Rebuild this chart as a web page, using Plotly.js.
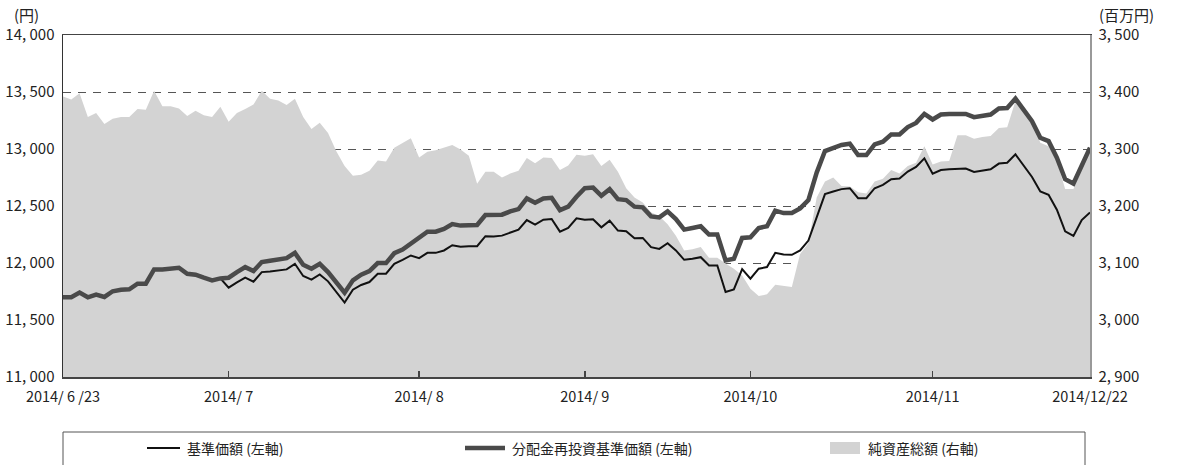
<!DOCTYPE html>
<html>
<head>
<meta charset="utf-8">
<script src="https://cdn.plot.ly/plotly-3.0.1.min.js"></script>
<style>
  html, body { margin: 0; padding: 0; background: #fff; }
  #chart { width: 1178px; height: 465px; }
</style>
</head>
<body>
<div id="chart"></div>
<script>
// 基準価額 (左軸)
const navPrice = [
  11699, 11699, 11740, 11699, 11723, 11702, 11752, 11766, 11769, 11819,
  11819, 11944, 11944, 11950, 11958, 11906, 11897, 11871, 11848, 11865,
  11784, 11830, 11871, 11836, 11920, 11926, 11935, 11944, 11993, 11886,
  11854, 11900, 11839, 11746, 11653, 11766, 11807, 11833, 11906, 11906,
  11993, 12028, 12066, 12043, 12089, 12089, 12110, 12156, 12142, 12147,
  12147, 12235, 12232, 12240, 12270, 12293, 12377, 12336, 12380, 12386,
  12275, 12307, 12392, 12380, 12383, 12313, 12371, 12284, 12278, 12217,
  12220, 12139, 12124, 12173, 12110, 12028, 12037, 12051, 11979, 11979,
  11746, 11769, 11947, 11862, 11950, 11964, 12089, 12075, 12072, 12110,
  12197, 12400, 12604, 12627, 12648, 12656, 12569, 12569, 12656, 12685,
  12735, 12741, 12802, 12843, 12918, 12784, 12816, 12822, 12822, 12828,
  12799, 12811, 12822, 12872, 12880, 12953, 12851, 12755, 12627, 12598,
  12467, 12278, 12237, 12377, 12444
];
// 分配金再投資基準価額 (左軸)
const reinvestPrice = [
  11699, 11699, 11740, 11699, 11723, 11702, 11752, 11766, 11769, 11819,
  11819, 11944, 11944, 11950, 11958, 11906, 11897, 11871, 11848, 11865,
  11871, 11920, 11964, 11929, 12008, 12019, 12031, 12043, 12089, 11984,
  11950, 11993, 11920, 11824, 11740, 11848, 11897, 11929, 11999, 11999,
  12086, 12118, 12168, 12226, 12275, 12275, 12299, 12342, 12328, 12331,
  12333, 12421, 12418, 12424, 12453, 12473, 12566, 12528, 12566, 12572,
  12464, 12494, 12581, 12656, 12662, 12590, 12648, 12560, 12552, 12494,
  12488, 12409, 12400, 12453, 12386, 12293, 12307, 12322, 12249, 12249,
  12022, 12037, 12220, 12226, 12307, 12322, 12459, 12438, 12438, 12479,
  12552, 12793, 12982, 13011, 13035, 13046, 12947, 12947, 13040, 13064,
  13128, 13128, 13192, 13229, 13308, 13259, 13302, 13308, 13308, 13308,
  13279, 13288, 13302, 13355, 13360, 13442, 13337, 13244, 13099, 13069,
  12924, 12735, 12697, 12851, 13011
];
// 純資産総額 (右軸, 百万円)
const netAssets = [
  3392, 3387, 3398, 3356, 3363, 3344, 3353, 3356, 3356, 3370,
  3369, 3402, 3375, 3375, 3371, 3358, 3367, 3359, 3356, 3374,
  3348, 3363, 3370, 3378, 3402, 3388, 3385, 3377, 3388, 3356,
  3335, 3346, 3328, 3296, 3270, 3253, 3255, 3262, 3280, 3278,
  3302, 3310, 3319, 3285, 3295, 3298, 3302, 3307, 3299, 3288,
  3239, 3260, 3260, 3250, 3257, 3262, 3284, 3275, 3285, 3284,
  3263, 3271, 3290, 3288, 3291, 3270, 3281, 3260, 3231, 3215,
  3206, 3189, 3182, 3168, 3148, 3122, 3124, 3128, 3109, 3109,
  3099, 3090, 3078, 3055, 3042, 3045, 3062, 3060, 3058, 3116,
  3135, 3215, 3243, 3250, 3235, 3234, 3224, 3222, 3243, 3248,
  3263, 3257, 3270, 3276, 3305, 3273, 3278, 3279, 3324, 3324,
  3318, 3321, 3323, 3337, 3338, 3384, 3369, 3352, 3311, 3305,
  3279, 3230, 3230, 3264, 3299
];
// x tick positions (business-day index) and labels
const xTickIdx = [0, 20, 43, 63, 83, 105, 124];
const xTickLabels = ["2014/ 6 /23", "2014/ 7", "2014/ 8", "2014/ 9", "2014/10", "2014/11", "2014/12/22"];
const leftTicks = [11000, 11500, 12000, 12500, 13000, 13500, 14000];
const leftTickLabels = ["11, 000", "11, 500", "12, 000", "12, 500", "13, 000", "13, 500", "14, 000"];
const rightTicks = [2900, 3000, 3100, 3200, 3300, 3400, 3500];
const rightTickLabels = ["2, 900", "3, 000", "3, 100", "3, 200", "3, 300", "3, 400", "3, 500"];
const seriesNames = ["基準価額 (左軸)", "分配金再投資基準価額 (左軸)", "純資産総額 (右軸)"];

const xIdx = navPrice.map((_, i) => i);
const FONT = "'Noto Sans CJK JP', 'Noto Sans', sans-serif";
const TXT = "#222";
const AREA = "#d3d3d3";
const THICK = "#4a4a4a";

const traces = [
  { x: xIdx, y: netAssets, type: "scatter", mode: "lines", fill: "tozeroy",
    fillcolor: AREA, line: { width: 0, color: AREA }, xaxis: "x", yaxis: "y",
    name: seriesNames[2], showlegend: false, hoverinfo: "skip" },
  { x: xIdx, y: navPrice, type: "scatter", mode: "lines",
    line: { width: 2, color: "#111" }, xaxis: "x", yaxis: "y2",
    name: seriesNames[0], showlegend: false },
  { x: xIdx, y: reinvestPrice, type: "scatter", mode: "lines",
    line: { width: 4.5, color: THICK }, xaxis: "x", yaxis: "y2",
    name: seriesNames[1], showlegend: false }
];

const W = 1178, H = 465, L = 63, R = 88, T = 35, B = 88;
const pw = W - L - R, ph = H - T - B;
const px = v => (v - L) / pw;
const py = v => (H - B - v) / ph;

const layout = {
  width: W, height: H,
  margin: { l: L, r: R, t: T, b: B },
  paper_bgcolor: "#fff", plot_bgcolor: "#fff",
  font: { family: FONT, color: TXT, size: 15 },
  xaxis: {
    range: [0, xIdx.length - 1], tickvals: xTickIdx, ticktext: xTickLabels,
    showgrid: false, zeroline: false, showline: true, linecolor: "#444", linewidth: 1.5,
    mirror: true, ticks: "inside", ticklen: 6, tickcolor: "#444", tickwidth: 1.5,
    tickfont: { family: FONT, size: 14.5, color: TXT }, ticklabelstandoff: 6, fixedrange: true
  },
  yaxis: {
    side: "right", range: [2900, 3500], tickvals: rightTicks, ticktext: rightTickLabels,
    showgrid: true, gridcolor: "#555", gridwidth: 1, griddash: "8px,7px",
    zeroline: false, showline: true, linecolor: "#999", linewidth: 1.5, ticks: "",
    tickfont: { family: FONT, size: 15, color: TXT }, ticklabelstandoff: 4
  },
  yaxis2: {
    overlaying: "y", side: "left", range: [11000, 14000], tickvals: leftTicks, ticktext: leftTickLabels,
    showgrid: false, zeroline: false, showline: true, linecolor: "#333", linewidth: 1.5, ticks: "",
    tickfont: { family: FONT, size: 15, color: TXT }, ticklabelstandoff: 4
  },
  shapes: [
    { type: "rect", xref: "paper", yref: "paper", x0: px(63), x1: px(1085), y0: py(432), y1: py(490),
      line: { color: "#555", width: 1 }, fillcolor: "rgba(0,0,0,0)" },
    { type: "line", xref: "paper", yref: "paper", x0: px(147), x1: px(180), y0: py(448), y1: py(448),
      line: { color: "#111", width: 2 } },
    { type: "line", xref: "paper", yref: "paper", x0: px(465), x1: px(505), y0: py(448), y1: py(448),
      line: { color: THICK, width: 4.5 } },
    { type: "rect", xref: "paper", yref: "paper", x0: px(830), x1: px(860), y0: py(454), y1: py(442),
      line: { width: 0 }, fillcolor: AREA }
  ],
  annotations: [
    { xref: "paper", yref: "paper", x: px(12), y: py(15), xanchor: "left", yanchor: "middle",
      text: "(円)", showarrow: false, font: { family: FONT, size: 15, color: TXT } },
    { xref: "paper", yref: "paper", x: px(1097), y: py(15), xanchor: "left", yanchor: "middle",
      text: "(百万円)", showarrow: false, font: { family: FONT, size: 15, color: TXT } },
    { xref: "paper", yref: "paper", x: px(185), y: py(448), xanchor: "left", yanchor: "middle",
      text: seriesNames[0], showarrow: false, font: { family: FONT, size: 14, color: TXT } },
    { xref: "paper", yref: "paper", x: px(510), y: py(448), xanchor: "left", yanchor: "middle",
      text: seriesNames[1], showarrow: false, font: { family: FONT, size: 14, color: TXT } },
    { xref: "paper", yref: "paper", x: px(866), y: py(448), xanchor: "left", yanchor: "middle",
      text: seriesNames[2], showarrow: false, font: { family: FONT, size: 14, color: TXT } }
  ],
  showlegend: false
};

Plotly.newPlot("chart", traces, layout, { displayModeBar: false, staticPlot: true });
</script>
</body>
</html>
